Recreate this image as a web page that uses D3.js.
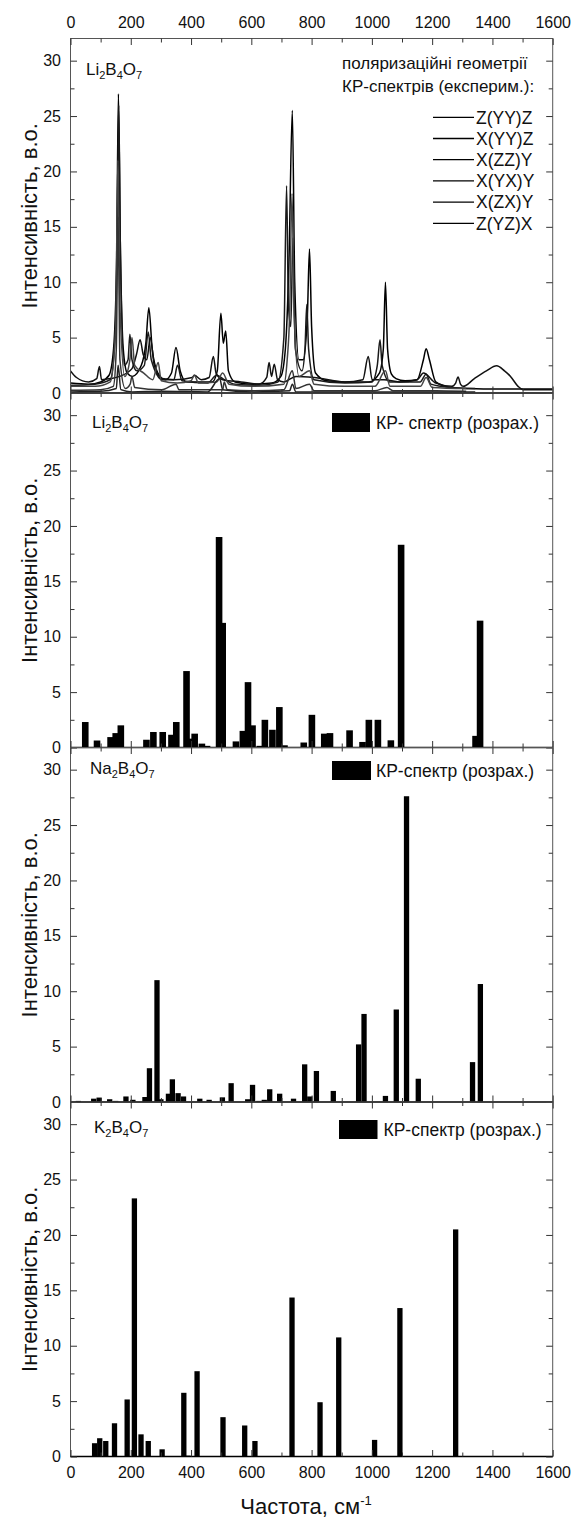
<!DOCTYPE html>
<html>
<head>
<meta charset="utf-8">
<script src="https://cdnjs.cloudflare.com/ajax/libs/d3/7.8.5/d3.min.js"></script>
<style>
  body { margin: 0; background: #fff; }
  text { font-family: "Liberation Sans", Arial, sans-serif; fill: #111; }
</style>
</head>
<body>
<div id="chart"></div>
<script>
// ---- data ----
const xTicks = [0, 200, 400, 600, 800, 1000, 1200, 1400, 1600];
const xMinor = [100, 300, 500, 700, 900, 1100, 1300, 1500];
const yTicks = [0, 5, 10, 15, 20, 25, 30];
const yMinor = [2.5, 7.5, 12.5, 17.5, 22.5, 27.5];

const geometries = ["Z(YY)Z", "X(YY)Z", "X(ZZ)Y", "X(YX)Y", "X(ZX)Y", "Z(YZ)X"];

// experimental spectra, Li2B4O7: [frequency, intensity]
const zyyz = [[0,0.9],[60,0.8],[100,1.0],[128,1.6],[143,4],[153,12],[159,27.0],[165,14],[175,4],[188,1.8],[205,1.5],[235,2.5],[250,4.5],[260,7.7],[271,4],[290,1.8],[315,1.2],[335,1.8],[350,4.1],[364,2],[385,1.0],[470,1.0],[487,2],[499,7.2],[507,4.5],[515,5.6],[524,2],[546,1.0],[606,0.8],[668,0.9],[698,1.5],[713,4],[725,12],[736,25.5],[744,10],[758,3],[772,3],[786,7],[793,13.0],[800,6],[813,1.8],[850,1.1],[910,1.0],[990,1.0],[1025,1.8],[1038,4],[1045,10.0],[1052,4],[1065,1.7],[1080,1.3],[1110,1.1],[1150,1.2],[1171,3],[1180,4.0],[1191,3],[1212,1.0],[1262,0.5],[1320,0.4],[1420,0.35],[1520,0.35],[1600,0.35]];
const xyyz = [[0,0.7],[80,0.8],[132,1.2],[148,5],[155,14],[160,26],[166,12],[178,2.5],[191,3],[197,5.3],[204,3],[220,2],[245,2.5],[258,5.5],[268,3],[305,1.2],[343,1.2],[355,2.5],[370,1.1],[455,0.9],[485,1.6],[505,1.3],[546,0.8],[626,0.7],[688,1.0],[708,5],[717,18.7],[723,8],[731,6],[738,14],[746,4],[768,2],[778,4],[784,8.0],[790,4],[808,1.2],[910,0.9],[1000,1.0],[1018,2.5],[1027,4.8],[1034,2.5],[1060,1.0],[1160,1.0],[1180,1.7],[1196,0.8],[1262,0.5],[1343,0.4]];
const xzzy = [[0,2.0],[20,1.4],[60,1.0],[87,1.3],[96,2.4],[103,1.2],[133,1.3],[163,1.5],[204,2.2],[219,3.5],[231,4.8],[241,3.5],[253,3],[265,5],[278,2.5],[303,1.3],[345,1.2],[404,1.4],[411,1.6],[434,1.2],[460,1.4],[474,3.3],[483,1.8],[505,1.2],[566,1.0],[626,0.8],[651,1.4],[659,2.75],[667,1.5],[676,2.6],[687,1.2],[707,1.0],[748,1.5],[808,1.4],[910,1.0],[970,1.2],[988,3.3],[1001,1.2],[1040,1.2],[1091,1.0],[1151,1.2],[1171,1.8],[1212,0.9],[1265,0.6],[1278,0.9],[1286,1.45],[1294,0.8],[1303,0.6],[1340,1.3],[1380,2.0],[1414,2.45],[1440,2.0],[1460,1.5],[1485,0.6],[1502,0.3],[1600,0.3]];
const xyxy = [[0,0.6],[82,0.6],[132,1.0],[150,6],[157,21],[164,8],[180,1.5],[197,3],[204,5.0],[213,2.5],[243,1.8],[273,1.2],[291,2.75],[301,1.1],[354,0.9],[400,1.1],[411,1.6],[425,0.9],[485,1.0],[505,1.8],[526,0.8],[606,0.6],[708,0.8],[719,3],[727,7],[735,18],[742,7],[758,1.5],[793,2],[808,0.8],[910,0.6],[1010,0.6],[1045,2],[1060,0.6],[1161,0.6],[1180,1.4],[1200,0.5],[1313,0.4]];
const xzxy = [[0,0.25],[100,0.3],[142,0.6],[152,4],[158,15.9],[164,3],[182,0.4],[198,0.8],[204,1.5],[213,0.5],[303,0.3],[350,0.8],[360,0.3],[505,0.3],[510,1.0],[520,0.3],[606,0.2],[708,0.3],[736,2],[748,0.4],[793,0.8],[808,0.2],[1010,0.2],[1050,0.5],[1070,0.2],[1212,0.2],[1313,0.15]];
const zyzx = [[0,0.1],[100,0.15],[152,0.4],[158,2.5],[167,0.3],[204,0.1],[303,0.15],[455,0.1],[495,1.3],[505,0.3],[606,0.1],[727,0.2],[736,0.8],[748,0.1],[910,0.1],[1110,0.1],[1343,0.1]];
const spectra = [zyyz, xyyz, xzzy, xyxy, xzxy, zyzx];

// calculated Raman lines: [frequency, intensity]
const liCalc = [[49,2.3],[88,0.63],[133,0.94],[150,1.3],[167,2.0],[252,0.7],[275,1.4],[306,1.4],[335,1.15],[351,2.3],[385,6.9],[398,0.8],[412,1.25],[436,0.35],[453,0.15],[493,19.0],[505,11.25],[549,0.55],[572,1.5],[589,5.9],[604,2.0],[628,0.15],[645,2.5],[670,1.6],[693,3.65],[710,0.2],[774,0.45],[801,2.95],[842,1.25],[861,1.3],[926,1.55],[969,0.5],[990,2.5],[1020,2.5],[1063,0.65],[1097,18.3],[1344,1.05],[1359,11.45]];
const naCalc = [[26,0.1],[77,0.3],[95,0.4],[130,0.25],[150,0.1],[184,0.5],[207,0.2],[247,0.45],[262,3.05],[287,11.0],[300,0.25],[325,0.75],[338,2.05],[357,0.8],[375,0.5],[429,0.3],[460,0.2],[504,0.42],[533,1.7],[588,0.25],[604,1.55],[625,0.1],[643,0.2],[661,1.15],[694,0.75],[740,0.3],[777,3.4],[794,0.5],[816,2.8],[872,1.0],[956,5.2],[974,7.95],[1045,0.55],[1081,8.35],[1115,27.6],[1154,2.1],[1334,3.6],[1360,10.65]];
const kCalc = [[80,1.2],[97,1.65],[117,1.4],[146,3.0],[188,5.15],[212,23.3],[234,2.0],[258,1.4],[304,0.65],[376,5.75],[390,0.08],[420,7.7],[506,3.55],[578,2.8],[612,1.4],[735,14.35],[828,4.9],[890,10.75],[1009,1.5],[1093,13.4],[1278,20.5]];

// ---- layout ----
const W = 576, H = 1519;
const left = 70.5, right = 552.7, top0 = 38.5, ph = 354.5;

const panels = [
  { base: "Li", sub: ["2", "4", "7"], kind: "exp", lx: 86, ly: 36.5 },
  { base: "Li", sub: ["2", "4", "7"], kind: "bar", data: liCalc, bw: 6.6, lx: 92, ly: 35,
    legend: "КР- спектр (розрах.)", rx: 332, ry: 20, rw: 38, tx: 376 },
  { base: "Na", sub: ["2", "4", "7"], kind: "bar", data: naCalc, bw: 5.3, lx: 90, ly: 26.5,
    legend: "КР-спектр (розрах.)", rx: 332, ry: 13.5, rw: 39, tx: 376 },
  { base: "K", sub: ["2", "4", "7"], kind: "bar", data: kCalc, bw: 5.3, lx: 94, ly: 31,
    legend: "КР-спектр (розрах.)", rx: 339, ry: 18, rw: 38.5, tx: 383.5 }
];
const lineColors = ["#000", "#1a1a1a", "#111", "#444", "#333", "#222"];

const x = d3.scaleLinear().domain([0, 1600]).range([left, right]);
const y = d3.scaleLinear().domain([0, 32]).range([ph, 0]);

const svg = d3.select("#chart").append("svg")
  .attr("width", W).attr("height", H);

svg.append("defs").append("clipPath").attr("id", "clip")
  .append("rect").attr("x", left).attr("y", 0).attr("width", right - left).attr("height", ph);

function styleAxis(g, size) {
  g.attr("font-family", '"Liberation Sans", Arial, sans-serif').attr("font-size", size);
  g.select(".domain").remove();
  g.selectAll(".tick line").attr("stroke", "#333").attr("stroke-width", 1);
  g.selectAll(".tick text").attr("fill", "#111");
}

panels.forEach((p, i) => {
  const g = svg.append("g").attr("transform", `translate(0,${top0 + i * ph})`);
  const plot = g.append("g").attr("clip-path", "url(#clip)");

  if (p.kind === "exp") {
    const line = d3.line().x(d => x(d[0])).y(d => y(d[1])).curve(d3.curveMonotoneX);
    spectra.forEach((s, k) => {
      plot.append("path").datum(s).attr("d", line)
        .attr("fill", "none").attr("stroke", lineColors[k]).attr("stroke-width", 1.5);
    });
  } else {
    plot.selectAll(".bar").data(p.data).enter().append("rect")
      .attr("class", "bar")
      .attr("x", d => x(d[0]) - p.bw / 2)
      .attr("width", p.bw)
      .attr("y", d => y(d[1]))
      .attr("height", d => y(0) - y(d[1]))
      .attr("fill", "#000");
  }

  // frame
  g.append("rect").attr("x", left).attr("y", 0).attr("width", right - left).attr("height", ph)
    .attr("fill", "none").attr("stroke", "#555").attr("stroke-width", 1);
  g.append("line").attr("x1", left).attr("x2", right).attr("y1", ph).attr("y2", ph)
    .attr("stroke", "#000").attr("stroke-width", 1.4);

  // x ticks, inward, top and bottom
  const bottom = g.append("g").attr("transform", `translate(0,${ph})`)
    .call(d3.axisBottom(x).tickValues(xTicks).tickSize(-6.5).tickPadding(10.5)
      .tickFormat(i === 3 ? d3.format("d") : () => ""));
  styleAxis(bottom, 16);
  styleAxis(g.append("g").attr("transform", `translate(0,${ph})`)
    .call(d3.axisBottom(x).tickValues(xMinor).tickSize(-4).tickFormat(() => "")), 16);
  const topAx = g.append("g")
    .call(d3.axisTop(x).tickValues(xTicks).tickSize(-6.5).tickPadding(10.5)
      .tickFormat(i === 0 ? d3.format("d") : () => ""));
  styleAxis(topAx, 16);
  styleAxis(g.append("g")
    .call(d3.axisTop(x).tickValues(xMinor).tickSize(-4).tickFormat(() => "")), 16);

  // y ticks, inward, left and right
  const leftAx = g.append("g").attr("transform", `translate(${left},0)`)
    .call(d3.axisLeft(y).tickValues(yTicks).tickSize(-6.5).tickPadding(9.5));
  styleAxis(leftAx, 16);
  styleAxis(g.append("g").attr("transform", `translate(${left},0)`)
    .call(d3.axisLeft(y).tickValues(yMinor).tickSize(-4).tickFormat(() => "")), 16);
  styleAxis(g.append("g").attr("transform", `translate(${right},0)`)
    .call(d3.axisRight(y).tickValues(yTicks).tickSize(-6.5).tickFormat(() => "")), 16);
  styleAxis(g.append("g").attr("transform", `translate(${right},0)`)
    .call(d3.axisRight(y).tickValues(yMinor).tickSize(-4).tickFormat(() => "")), 16);

  // y-axis title
  g.append("text")
    .attr("transform", `translate(37,${ph / 2}) rotate(-90)`)
    .attr("text-anchor", "middle")
    .attr("font-size", 22)
    .text("Інтенсивність, в.о.");

  // compound label, e.g. Li2B4O7
  const lab = g.append("text").attr("x", p.lx).attr("y", p.ly).attr("font-size", 17);
  const parts = [[p.base, p.sub[0]], ["B", p.sub[1]], ["O", p.sub[2]]];
  parts.forEach((pt, k) => {
    lab.append("tspan").attr("dy", k === 0 ? 0 : -4).text(pt[0]);
    lab.append("tspan").attr("font-size", 11).attr("dy", 4).text(pt[1]);
  });

  if (p.kind === "exp") {
    g.append("text").attr("x", 342).attr("y", 69 - top0).attr("font-size", 17)
      .text("поляризаційні геометрії");
    g.append("text").attr("x", 342).attr("y", 92 - top0).attr("font-size", 17)
      .text("КР-спектрів (експерим.):");
    geometries.forEach((name, k) => {
      const cy = 117.3 - top0 + k * 21.2;
      g.append("line").attr("x1", 433).attr("x2", 474).attr("y1", cy).attr("y2", cy)
        .attr("stroke", "#000").attr("stroke-width", 1.3);
      g.append("text").attr("x", 476).attr("y", cy + 6.3).attr("font-size", 17.5).text(name);
    });
  } else {
    g.append("rect").attr("x", p.rx).attr("y", p.ry).attr("width", p.rw).attr("height", 19)
      .attr("fill", "#000");
    g.append("text").attr("x", p.tx).attr("y", p.ry + 15.5).attr("font-size", 17.5)
      .text(p.legend);
  }
});

// x-axis title
const xt = svg.append("text").attr("x", 306).attr("y", 1514)
  .attr("text-anchor", "middle").attr("font-size", 22);
xt.append("tspan").text("Частота, см");
xt.append("tspan").attr("font-size", 13).attr("dy", -9).text("-1");
</script>
</body>
</html>
